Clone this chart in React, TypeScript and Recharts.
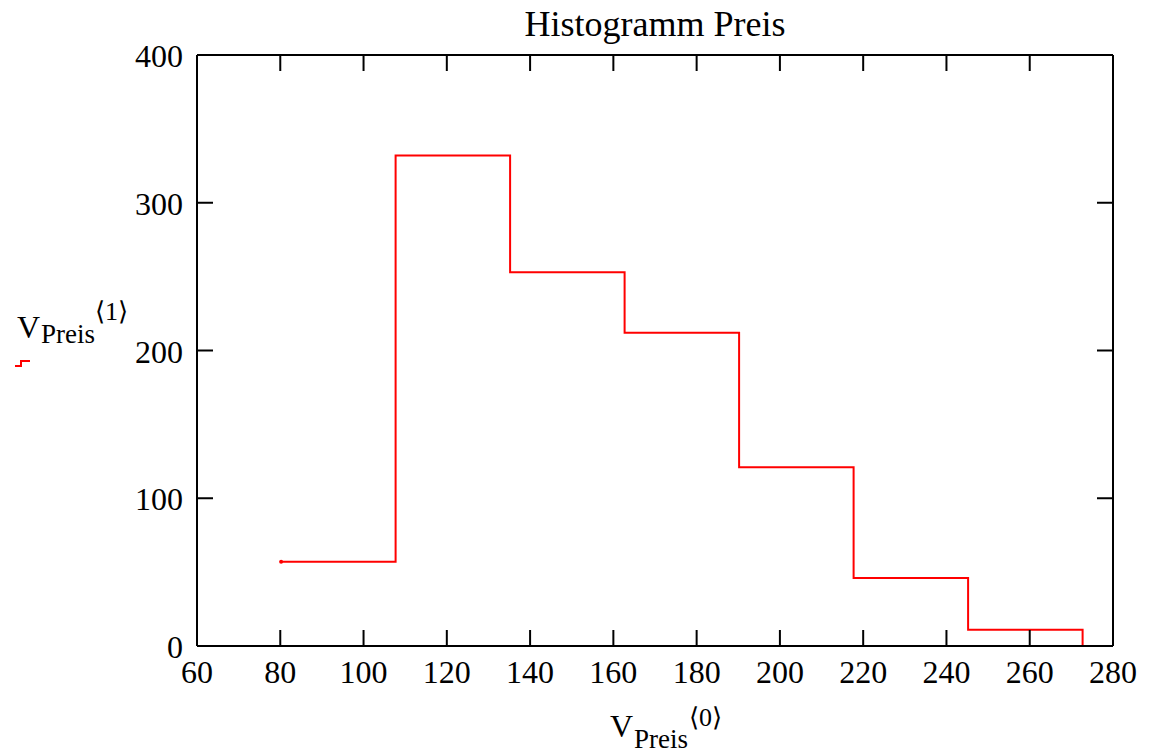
import { Line, LineChart, ReferenceLine, XAxis, YAxis } from 'recharts';

// histogram bins: left edges and counts, last point closes the step at 0
const binEdges = [80.2, 107.7, 135.2, 162.7, 190.2, 217.7, 245.2, 272.7];
const binCounts = [57, 332, 253, 212, 121, 46, 11, 0];
const xTicks = [60, 80, 100, 120, 140, 160, 180, 200, 220, 240, 260, 280];
const yTicks = [0, 100, 200, 300, 400];

const data = binEdges.map((edge, i) => ({ edge, count: binCounts[i] }));

const W = 1149;
const H = 755;
const PLOT = { left: 197, top: 55, right: 1113, bottom: 646 };
const AXIS_H = 60;
const AXIS_W = 100;
const TICK_LEN = 16;
const FONT = "'Liberation Serif', 'Times New Roman', serif";

// bottom tick label plus inward tick marks on bottom and top edge
const BottomTick = ({ x, y, payload }: any) => (
  <g>
    <line x1={x} x2={x} y1={y} y2={y - TICK_LEN} stroke="#000" strokeWidth={2} />
    <line
      x1={x}
      x2={x}
      y1={y - (PLOT.bottom - PLOT.top)}
      y2={y - (PLOT.bottom - PLOT.top) + TICK_LEN}
      stroke="#000"
      strokeWidth={2}
    />
    <text x={x} y={y + 37} textAnchor="middle" fontSize={32} fontFamily={FONT} fill="#000">
      {payload.value}
    </text>
  </g>
);

// left tick label plus inward tick marks on left and right edge
const LeftTick = ({ x, y, payload }: any) => (
  <g>
    <line x1={x} x2={x + TICK_LEN} y1={y} y2={y} stroke="#000" strokeWidth={2} />
    <line
      x1={x + (PLOT.right - PLOT.left)}
      x2={x + (PLOT.right - PLOT.left) - TICK_LEN}
      y1={y}
      y2={y}
      stroke="#000"
      strokeWidth={2}
    />
    <text x={x - 14} y={y + 12} textAnchor="end" fontSize={32} fontFamily={FONT} fill="#000">
      {payload.value}
    </text>
  </g>
);

const StartDot = ({ cx, cy, index }: any) =>
  index === 0 ? <circle key="start" cx={cx} cy={cy} r={2} fill="#ff0000" /> : <g key={index} />;

export default function App() {
  return (
    <div style={{ position: 'absolute', left: 0, top: 0, width: W, height: H, background: '#fff' }}>
      <LineChart
        width={W}
        height={H}
        data={data}
        margin={{
          left: PLOT.left - AXIS_W,
          top: PLOT.top,
          right: W - PLOT.right,
          bottom: H - PLOT.bottom - AXIS_H,
        }}
      >
        <XAxis
          dataKey="edge"
          type="number"
          domain={[60, 280]}
          ticks={xTicks}
          interval={0}
          height={AXIS_H}
          tickSize={0}
          tickMargin={0}
          tickLine={false}
          axisLine={{ stroke: '#000', strokeWidth: 2 }}
          tick={<BottomTick />}
        />
        <YAxis
          type="number"
          domain={[0, 400]}
          ticks={yTicks}
          interval={0}
          width={AXIS_W}
          tickSize={0}
          tickMargin={0}
          tickLine={false}
          axisLine={{ stroke: '#000', strokeWidth: 2 }}
          tick={<LeftTick />}
        />
        <ReferenceLine x={280} stroke="#000" strokeWidth={2} />
        <ReferenceLine y={400} stroke="#000" strokeWidth={2} />
        <Line
          type="stepAfter"
          dataKey="count"
          stroke="#ff0000"
          strokeWidth={2}
          dot={<StartDot />}
          activeDot={false}
          isAnimationActive={false}
        />
      </LineChart>
      <svg
        width={W}
        height={H}
        style={{ position: 'absolute', left: 0, top: 0, pointerEvents: 'none' }}
        fontFamily={FONT}
        fill="#000"
      >
        <text x={655} y={36} textAnchor="middle" fontSize={36}>
          Histogramm Preis
        </text>
        {/* y axis name with legend swatch */}
        <text x={17} y={338} fontSize={32}>V</text>
        <text x={41} y={343} fontSize={27}>Preis</text>
        <text x={95} y={320} fontSize={26}>⟨1⟩</text>
        <path d="M15 366 H21 V361 H30" stroke="#ff0000" strokeWidth={2} fill="none" />
        {/* x axis name */}
        <text x={610} y={737} fontSize={32}>V</text>
        <text x={634} y={748} fontSize={27}>Preis</text>
        <text x={689} y={726} fontSize={26}>⟨0⟩</text>
      </svg>
    </div>
  );
}
